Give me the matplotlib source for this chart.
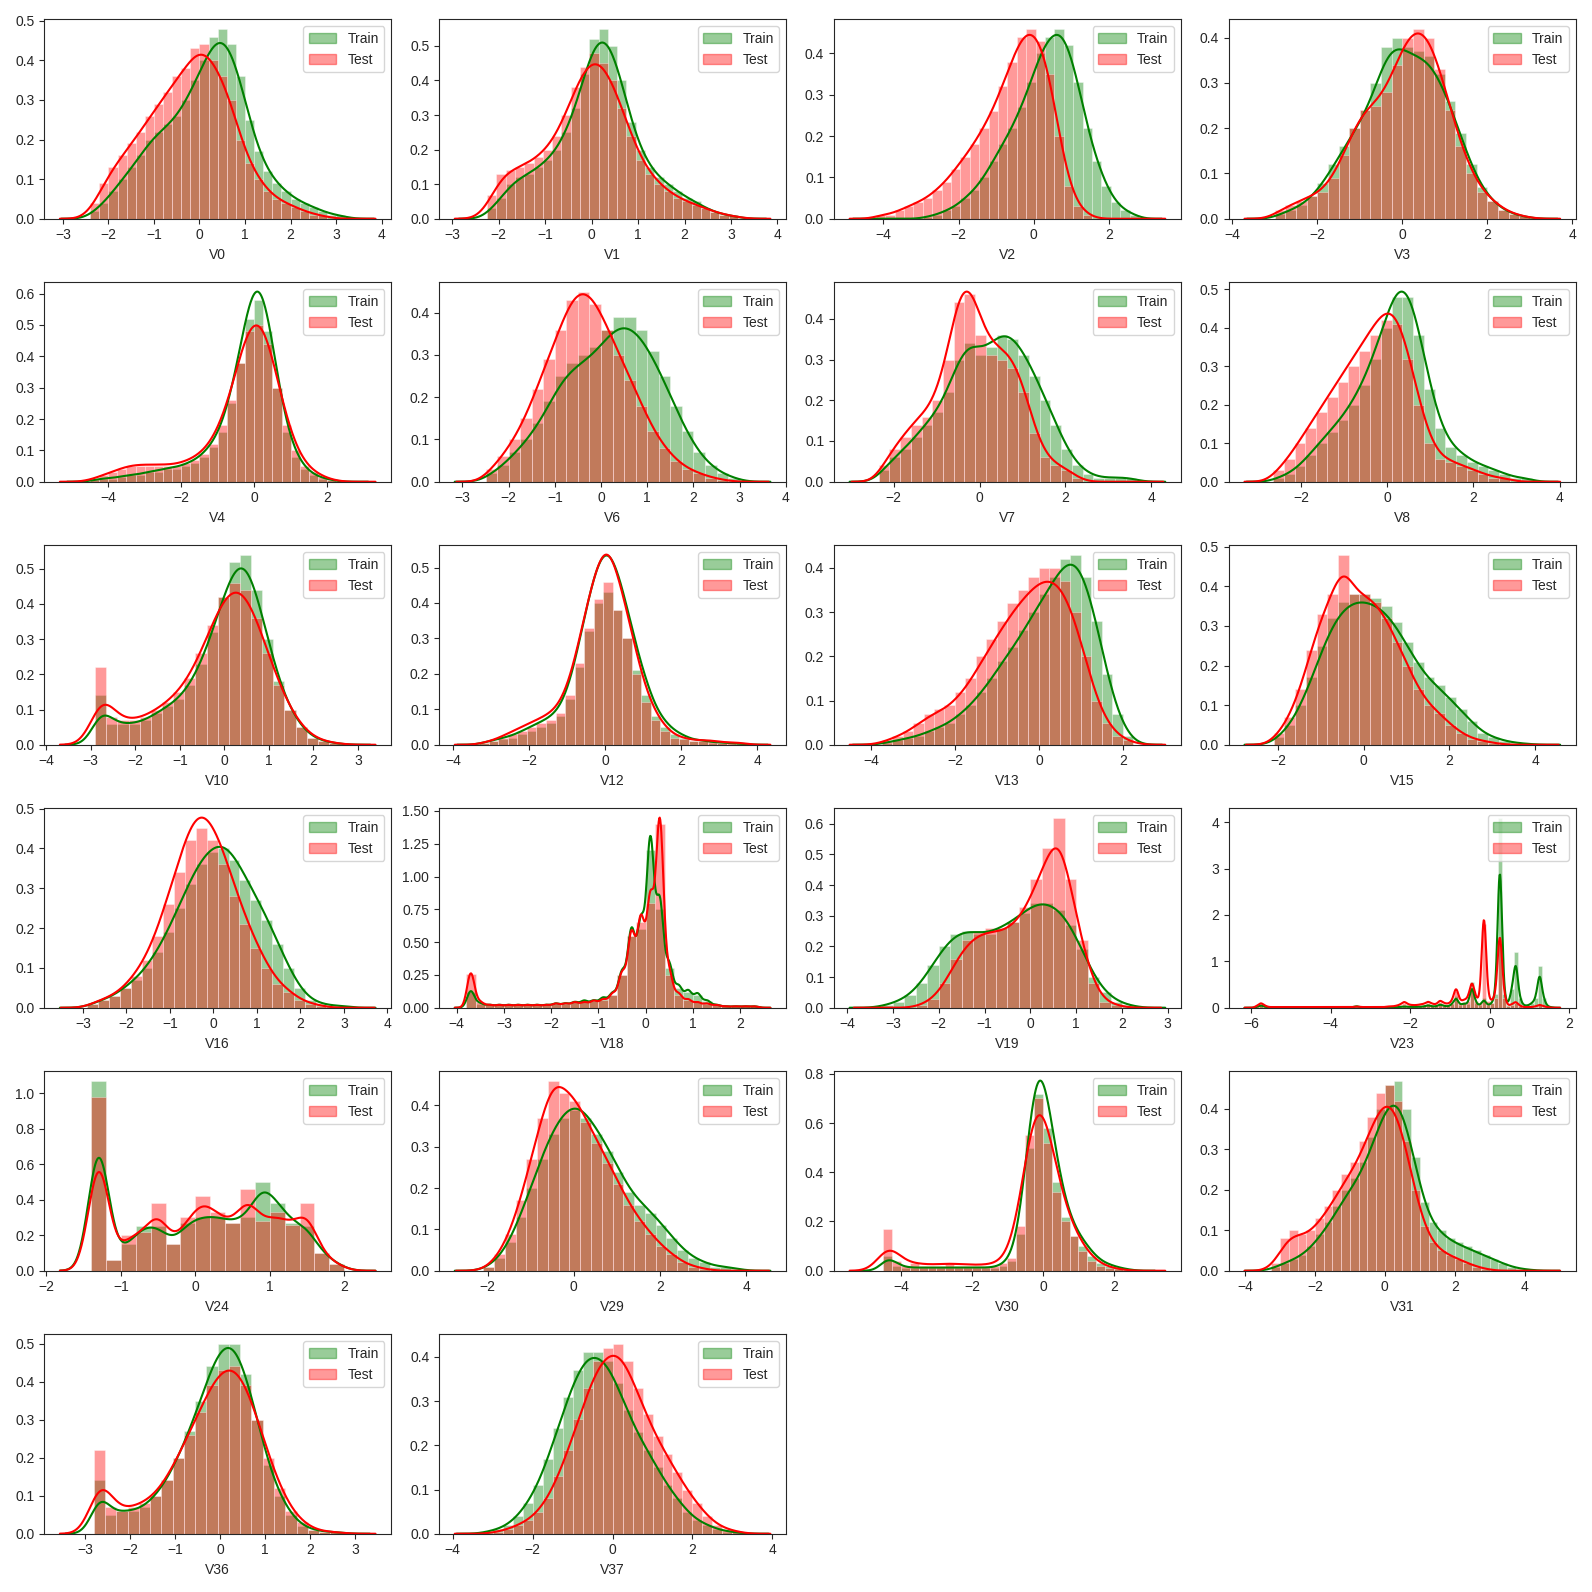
import numpy as np
import matplotlib
matplotlib.use("Agg")
import matplotlib.pyplot as plt
import seaborn as sns
from matplotlib.patches import Patch

sns.set_style("ticks")
plt.rcParams['font.family'] = ['Liberation Sans', 'DejaVu Sans']

V0_train = [0.02,0.04,0.07,0.10,0.13,0.16,0.20,0.22,0.24,0.26,0.30,0.35,0.40,0.46,0.48,0.44,0.36,0.25,0.17,0.12,0.09,0.07,0.05,0.04,0.03,0.02,0.01,0.01]
V0_test = [0.04,0.09,0.13,0.16,0.19,0.22,0.26,0.29,0.32,0.36,0.38,0.43,0.44,0.40,0.36,0.30,0.20,0.14,0.10,0.07,0.05,0.04,0.03,0.02,0.01,0.01,0.0,0.0]
V1_train = [0.03,0.06,0.10,0.12,0.13,0.15,0.17,0.20,0.25,0.32,0.42,0.52,0.55,0.50,0.40,0.28,0.20,0.15,0.12,0.10,0.08,0.06,0.05,0.03,0.02,0.01,0.01]
V1_test = [0.07,0.13,0.14,0.15,0.16,0.18,0.20,0.24,0.30,0.38,0.44,0.48,0.45,0.40,0.32,0.24,0.17,0.13,0.10,0.08,0.06,0.05,0.04,0.03,0.02,0.01,0.01]
V2_train = [0,0,0,0,0,0.005,0.01,0.02,0.03,0.05,0.07,0.10,0.14,0.18,0.22,0.27,0.33,0.40,0.44,0.46,0.42,0.33,0.22,0.14,0.08,0.04,0.02,0.01]
V2_test = [0.01,0.01,0.02,0.03,0.04,0.05,0.07,0.09,0.12,0.15,0.18,0.22,0.26,0.32,0.38,0.44,0.46,0.43,0.35,0.20,0.08,0.03,0.01,0,0,0,0,0]
V3_train = [0.01,0.02,0.03,0.05,0.08,0.12,0.16,0.20,0.24,0.30,0.38,0.40,0.38,0.37,0.36,0.32,0.26,0.19,0.12,0.07,0.04,0.02,0.01,0.005]
V3_test = [0.02,0.03,0.04,0.05,0.06,0.09,0.14,0.20,0.24,0.25,0.28,0.34,0.40,0.42,0.40,0.33,0.24,0.16,0.10,0.06,0.04,0.02,0.01,0.005]
V4_train = [0.005,0.01,0.01,0.015,0.02,0.02,0.03,0.03,0.04,0.04,0.05,0.06,0.08,0.11,0.16,0.25,0.38,0.52,0.58,0.48,0.30,0.16,0.08,0.04,0.02,0.01,0.005,0]
V4_test = [0.01,0.02,0.03,0.04,0.05,0.05,0.05,0.05,0.05,0.05,0.06,0.07,0.09,0.12,0.18,0.26,0.38,0.48,0.50,0.44,0.30,0.18,0.10,0.05,0.03,0.015,0.005,0]
V6_train = [0.02,0.04,0.07,0.10,0.14,0.19,0.25,0.28,0.30,0.32,0.36,0.39,0.39,0.36,0.31,0.25,0.18,0.12,0.07,0.04,0.02,0.01]
V6_test = [0.03,0.06,0.10,0.15,0.22,0.29,0.36,0.43,0.45,0.42,0.36,0.30,0.24,0.18,0.12,0.08,0.05,0.03,0.02,0.01,0.005,0]
V7_train = [0.03,0.06,0.08,0.11,0.14,0.17,0.22,0.30,0.34,0.31,0.33,0.36,0.35,0.31,0.26,0.20,0.14,0.08,0.04,0.02,0.01,0.01,0.01,0.01]
V7_test = [0.04,0.08,0.11,0.14,0.16,0.20,0.30,0.44,0.46,0.36,0.31,0.30,0.28,0.22,0.12,0.06,0.04,0.03,0.01,0,0,0,0,0]
V8_train = [0.01,0.02,0.04,0.07,0.10,0.13,0.16,0.20,0.25,0.32,0.40,0.48,0.48,0.38,0.24,0.14,0.09,0.07,0.05,0.04,0.03,0.02,0.01,0.01]
V8_test = [0.03,0.06,0.10,0.14,0.18,0.22,0.26,0.30,0.34,0.38,0.42,0.41,0.32,0.20,0.10,0.06,0.05,0.04,0.03,0.02,0.01,0.01,0,0]
V10_train = [0.14,0.06,0.06,0.06,0.07,0.09,0.11,0.13,0.17,0.23,0.32,0.42,0.52,0.54,0.44,0.30,0.18,0.10,0.05,0.02,0.01,0.005]
V10_test = [0.22,0.08,0.07,0.07,0.08,0.10,0.12,0.15,0.19,0.26,0.34,0.42,0.46,0.44,0.36,0.26,0.17,0.10,0.05,0.02,0.01,0.005]
V12_train = [0.005,0.01,0.015,0.02,0.03,0.04,0.05,0.06,0.08,0.13,0.22,0.32,0.40,0.43,0.38,0.30,0.21,0.14,0.08,0.05,0.03,0.02,0.01,0.01,0.005,0.005,0.003,0.003]
V12_test = [0.005,0.01,0.02,0.03,0.04,0.05,0.06,0.07,0.09,0.14,0.23,0.33,0.41,0.46,0.38,0.30,0.20,0.12,0.07,0.04,0.02,0.015,0.01,0.01,0.01,0.005,0.005,0.005]
V13_train = [0.005,0.01,0.015,0.02,0.03,0.04,0.05,0.07,0.09,0.12,0.15,0.19,0.22,0.26,0.30,0.34,0.38,0.42,0.43,0.38,0.28,0.16,0.07,0.02]
V13_test = [0.01,0.02,0.03,0.05,0.07,0.08,0.09,0.12,0.15,0.20,0.24,0.28,0.32,0.35,0.38,0.40,0.40,0.37,0.30,0.20,0.10,0.05,0.02,0.01]
V15_train = [0.02,0.05,0.10,0.17,0.25,0.32,0.36,0.38,0.38,0.37,0.35,0.31,0.26,0.21,0.17,0.15,0.12,0.09,0.06,0.03,0.02,0.01,0.005,0.003]
V15_test = [0.03,0.07,0.14,0.24,0.33,0.38,0.48,0.38,0.38,0.36,0.32,0.26,0.20,0.14,0.10,0.08,0.05,0.03,0.015,0.01,0.005,0,0,0]
V16_train = [0.01,0.02,0.03,0.05,0.07,0.10,0.14,0.19,0.25,0.31,0.36,0.39,0.40,0.37,0.32,0.27,0.22,0.16,0.10,0.05,0.02,0.01,0.005,0.005]
V16_test = [0.01,0.02,0.03,0.05,0.08,0.12,0.18,0.26,0.34,0.42,0.45,0.42,0.36,0.28,0.21,0.15,0.10,0.06,0.04,0.02,0.01,0.005,0,0]
V18_train = [0.12,0.03,0.02,0.02,0.02,0.02,0.02,0.02,0.02,0.03,0.03,0.04,0.05,0.05,0.07,0.10,0.25,0.55,0.60,1.20,0.75,0.30,0.15,0.12,0.10,0.05,0.02,0.01,0.01,0.01,0.01]
V18_test = [0.26,0.04,0.02,0.02,0.02,0.02,0.02,0.02,0.02,0.03,0.03,0.04,0.04,0.05,0.06,0.10,0.25,0.55,0.65,0.80,1.40,0.25,0.10,0.06,0.04,0.03,0.02,0.01,0.01,0.01,0.01]
V19_train = [0.01,0.02,0.04,0.08,0.14,0.20,0.24,0.25,0.24,0.24,0.26,0.28,0.31,0.34,0.34,0.32,0.27,0.19,0.10,0.05,0.02,0.01]
V19_test = [0,0,0,0.01,0.03,0.08,0.16,0.22,0.25,0.26,0.26,0.28,0.33,0.42,0.52,0.62,0.42,0.22,0.08,0.02,0.01,0]
V23_train = [0,0.02,0.06,0.02, 0.01,0.01,0.01,0.01,0.01,0.01,0.01,0.01,0.01,0.01,0.01,0.01,0.01,0.01,0.01,0.01,
             0.01,0.01,0.01,0.01,0.01,0.01,0.04,0.01,0.01,0.01, 0.01,0.01,0.01,0.01,0.01,0.01,0.01,0.02,0.03,0.02,
             0.02,0.02,0.02,0.03,0.06,0.03,0.03,0.08,0.04,0.03, 0.08,0.25,0.06,0.10,0.08,0.55,0.10,0.05,0.20,0.05,
             0.10,0.30,4.10,0.30,0.05,0.40,1.20,0.20,0.05,0.05, 0.10,0.20,0.90,0.20,0.03,0.01]
V23_test = [0,0.03,0.08,0.03, 0.01,0.01,0.01,0.01,0.01,0.01,0.01,0.01,0.01,0.01,0.01,0.01,0.01,0.01,0.01,0.01,
            0.01,0.01,0.01,0.01,0.01,0.01,0.02,0.01,0.01,0.01, 0.01,0.01,0.01,0.01,0.02,0.02,0.03,0.05,0.10,0.05,
            0.04,0.04,0.05,0.06,0.10,0.06,0.05,0.12,0.07,0.06, 0.10,0.35,0.10,0.12,0.15,0.45,0.15,0.10,1.80,0.15,
            0.10,0.20,1.40,0.20,0.03,0.05,0.10,0.03,0.01,0.01, 0.01,0.02,0.05,0.02,0.01,0]
V24_train = [1.07,0.06,0.15,0.25,0.25,0.15,0.27,0.30,0.30,0.27,0.30,0.50,0.38,0.27,0.25,0.10,0.04]
V24_test = [0.98,0.06,0.20,0.22,0.38,0.15,0.30,0.42,0.33,0.27,0.46,0.28,0.33,0.26,0.38,0.10,0.04]
V29_train = [0.01,0.03,0.07,0.13,0.20,0.27,0.33,0.37,0.39,0.37,0.33,0.29,0.24,0.19,0.16,0.14,0.11,0.08,0.05,0.03,0.02,0.01,0.01,0.005]
V29_test = [0.01,0.04,0.09,0.17,0.27,0.37,0.46,0.43,0.41,0.36,0.31,0.26,0.21,0.16,0.12,0.09,0.06,0.04,0.02,0.01,0.005,0,0,0]
V30_train = [0.06,0.02,0.01,0.01,0.01,0.01,0.01,0.01,0.01,0.01,0.01,0.01,0.01,0.02,0.04,0.15,0.50,0.72,0.58,0.36,0.22,0.14,0.10,0.06,0.03,0.02,0.01,0.005]
V30_test = [0.17,0.04,0.02,0.03,0.02,0.02,0.02,0.03,0.02,0.02,0.02,0.02,0.02,0.03,0.05,0.18,0.55,0.70,0.52,0.32,0.20,0.14,0.08,0.04,0.02,0.01,0.005,0]
V31_train = [0.01,0.02,0.03,0.04,0.06,0.09,0.12,0.16,0.20,0.23,0.27,0.33,0.40,0.46,0.47,0.40,0.28,0.17,0.12,0.10,0.08,0.07,0.06,0.05,0.04,0.03,0.02,0.01,0.005,0.003]
V31_test = [0.02,0.08,0.10,0.09,0.10,0.13,0.16,0.20,0.24,0.27,0.32,0.38,0.44,0.46,0.42,0.32,0.20,0.11,0.07,0.05,0.04,0.03,0.02,0.01,0.005,0,0,0,0,0]
V36_train = [0.14,0.05,0.06,0.06,0.07,0.10,0.14,0.20,0.27,0.35,0.44,0.50,0.50,0.42,0.30,0.18,0.10,0.05,0.02,0.01,0.005,0.005]
V36_test = [0.22,0.07,0.06,0.07,0.08,0.10,0.14,0.20,0.26,0.32,0.39,0.43,0.44,0.39,0.30,0.20,0.12,0.06,0.03,0.01,0.005,0.005]
V37_train = [0.005,0.01,0.02,0.04,0.07,0.11,0.17,0.24,0.31,0.37,0.41,0.41,0.39,0.34,0.28,0.23,0.19,0.15,0.11,0.08,0.05,0.03,0.02,0.01,0.005,0.003]
V37_test = [0,0.005,0.01,0.02,0.03,0.05,0.08,0.13,0.19,0.26,0.33,0.39,0.42,0.43,0.39,0.33,0.27,0.22,0.18,0.14,0.10,0.07,0.04,0.02,0.01,0.005]

names = ["V0","V1","V2","V3","V4","V6","V7","V8","V10","V12","V13","V15",
         "V16","V18","V19","V23","V24","V29","V30","V31","V36","V37"]
bin_start = [-2.4,-2.25,-4.2,-3.0,-4.5,-2.5,-2.35,-2.65,-2.9,-3.3,-3.75,-2.1,
             -2.9,-3.8,-3.25,-6.0,-1.4,-2.1,-4.5,-3.25,-2.8,-3.25]
bin_width = [0.2,0.2,0.25,0.25,0.25,0.25,0.25,0.25,0.25,0.25,0.25,0.25,
             0.25,0.2,0.25,0.1,0.2,0.25,0.25,0.25,0.25,0.25]
kde_bw = [None]*13 + [0.08, None, 0.055, 0.14, None, None, None, None, None]
trains = [V0_train,V1_train,V2_train,V3_train,V4_train,V6_train,V7_train,V8_train,V10_train,V12_train,V13_train,V15_train,
          V16_train,V18_train,V19_train,V23_train,V24_train,V29_train,V30_train,V31_train,V36_train,V37_train]
tests = [V0_test,V1_test,V2_test,V3_test,V4_test,V6_test,V7_test,V8_test,V10_test,V12_test,V13_test,V15_test,
         V16_test,V18_test,V19_test,V23_test,V24_test,V29_test,V30_test,V31_test,V36_test,V37_test]


def kde_curve(lo, w, h, bw, n):
    h = np.asarray(h, float)
    c = lo + w * (np.arange(len(h)) + 0.5)
    p = h * w
    p = p / p.sum()
    if bw is None:
        m = (p * c).sum()
        sd = np.sqrt((p * (c - m) ** 2).sum())
        bw = 1.06 * sd * n ** -0.2
    x = np.linspace(c[0] - w / 2 - 3 * bw, c[-1] + w / 2 + 3 * bw, 600)
    y = (p[None, :] * np.exp(-0.5 * ((x[:, None] - c[None, :]) / bw) ** 2)).sum(1) / (bw * np.sqrt(2 * np.pi))
    return x, y


fig, axes = plt.subplots(6, 4, figsize=(15.92, 15.92), dpi=100)
axes = axes.ravel()
for i, name in enumerate(names):
    ax = axes[i]
    lo, w = bin_start[i], bin_width[i]
    for data, col, n in ((trains[i], "green", 2888), (tests[i], "red", 1925)):
        edges = lo + w * np.arange(len(data))
        ax.bar(edges, data, width=w, align="edge", color=col, alpha=0.4,
               edgecolor="white", linewidth=0.6)
        x, y = kde_curve(lo, w, data, kde_bw[i], n)
        ax.plot(x, y, color=col, lw=1.5)
    ax.set_xlabel(name)
    ax.set_ylim(bottom=0)
    ax.legend(handles=[Patch(color="green", alpha=0.4), Patch(color="red", alpha=0.4)],
              labels=["Train", "Test"], loc="upper right")
for ax in axes[len(names):]:
    ax.remove()
fig.tight_layout()
fig.savefig("out.png")
